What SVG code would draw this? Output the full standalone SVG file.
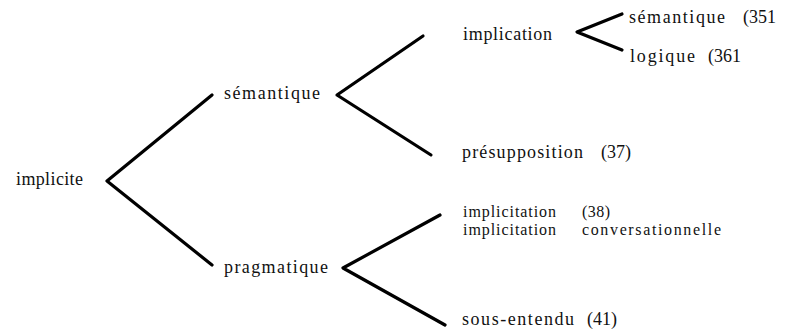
<svg xmlns="http://www.w3.org/2000/svg" width="786" height="332" viewBox="0 0 786 332">
  <style>
    .lbl { font-family: "Liberation Serif", "DejaVu Serif", serif; font-size: 18px; fill: #111; }
    .sm { font-size: 16px; }
    .br { fill: none; stroke: #000; stroke-width: 3.2; stroke-linecap: round; stroke-linejoin: round; }
  </style>
  <rect width="786" height="332" fill="#fff"/>

  <!-- branching brackets -->
  <g id="connectors">
    <polyline class="br" points="212,95 107,181 212,265"/>
    <polyline class="br" points="423,36 337,95 431,155"/>
    <polyline class="br" points="440,215 343,268 445,325"/>
    <polyline class="br" points="622,14 577,32 622,50"/>
  </g>

  <g id="implicite">
    <text class="lbl" x="16" y="185" textLength="67" lengthAdjust="spacing">implicite</text>
  </g>
  <g id="semantique">
    <text class="lbl" x="224" y="99" textLength="96" lengthAdjust="spacing">sémantique</text>
  </g>
  <g id="pragmatique">
    <text class="lbl" x="224" y="273" textLength="104" lengthAdjust="spacing">pragmatique</text>
  </g>
  <g id="implication">
    <text class="lbl" x="463" y="40" textLength="89" lengthAdjust="spacing">implication</text>
  </g>
  <g id="implication-semantique">
    <text class="lbl" x="629" y="23" textLength="96" lengthAdjust="spacing">sémantique</text>
    <text class="lbl" x="743" y="23">(351</text>
  </g>
  <g id="implication-logique">
    <text class="lbl" x="630" y="62" textLength="65" lengthAdjust="spacing">logique</text>
    <text class="lbl" x="708" y="62">(361</text>
  </g>
  <g id="presupposition">
    <text class="lbl" x="462" y="158" textLength="121" lengthAdjust="spacing">présupposition</text>
    <text class="lbl" x="601" y="158">(37)</text>
  </g>
  <g id="implicitation">
    <text class="lbl sm" x="463" y="217" textLength="93" lengthAdjust="spacing">implicitation</text>
    <text class="lbl sm" x="582" y="217" textLength="28" lengthAdjust="spacing">(38)</text>
    <text class="lbl sm" x="463" y="235" textLength="93" lengthAdjust="spacing">implicitation</text>
    <text class="lbl sm" x="582" y="235" textLength="139" lengthAdjust="spacing">conversationnelle</text>
  </g>
  <g id="sous-entendu">
    <text class="lbl" x="462" y="325" textLength="112" lengthAdjust="spacing">sous-entendu</text>
    <text class="lbl" x="587" y="325">(41)</text>
  </g>
</svg>
